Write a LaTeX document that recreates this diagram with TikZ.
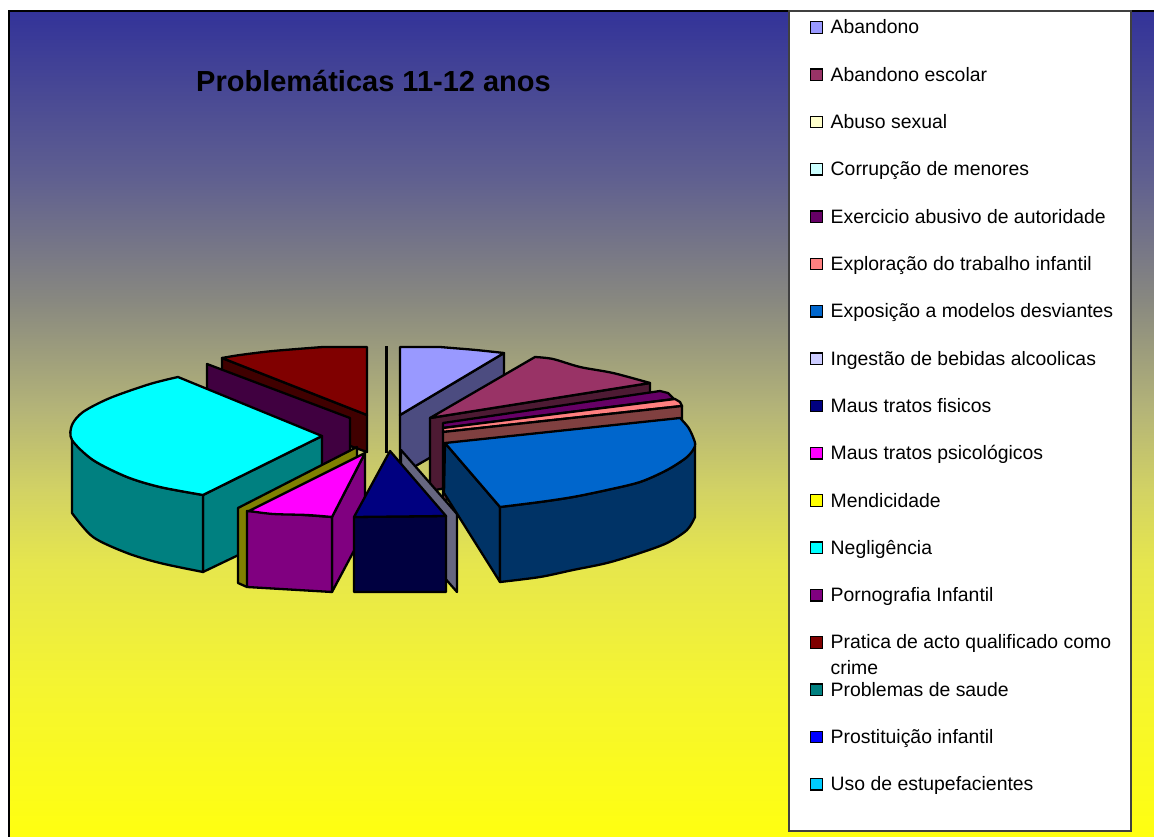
\documentclass[tikz,border=0pt]{standalone}
\usepackage{fontspec}
\setmainfont{Liberation Sans}
\usepackage{tikz}
\usetikzlibrary{positioning}

% background colours
\definecolor{bgTop}{RGB}{51,51,153}
\definecolor{bgBlue}{RGB}{95,95,144}
\definecolor{bgGrey}{RGB}{136,136,128}
\definecolor{bgOlive}{RGB}{180,180,120}
\definecolor{bgLime}{RGB}{210,210,100}
\definecolor{bgPale}{RGB}{230,230,77}
\definecolor{bgLight}{RGB}{245,245,48}
\definecolor{bgBot}{RGB}{255,255,16}
\pgfdeclareverticalshading{chartbg}{100bp}{color(0bp)=(bgBot); color(25bp)=(bgBot);
  color(33.9bp)=(bgLight); color(41.5bp)=(bgPale); color(46bp)=(bgLime);
  color(50.9bp)=(bgOlive); color(57.5bp)=(bgGrey); color(65bp)=(bgBlue);
  color(75bp)=(bgTop); color(100bp)=(bgTop)}

% slice colours
\definecolor{cAbandono}{HTML}{9999FF}
\definecolor{cAbandonoD}{HTML}{4C4C80}
\definecolor{cEscolar}{HTML}{993366}
\definecolor{cEscolarD}{HTML}{4D1A33}
\definecolor{cAbuso}{HTML}{FFFFCC}
\definecolor{cCorrupcao}{HTML}{CCFFFF}
\definecolor{cExercicio}{HTML}{660066}
\definecolor{cExploracao}{HTML}{FF8080}
\definecolor{cExploracaoD}{HTML}{804040}
\definecolor{cExposicao}{HTML}{0066CC}
\definecolor{cExposicaoD}{HTML}{003366}
\definecolor{cIngestao}{HTML}{CCCCFF}
\definecolor{cIngestaoD}{HTML}{666680}
\definecolor{cFisicos}{HTML}{000080}
\definecolor{cFisicosD}{HTML}{000040}
\definecolor{cPsico}{HTML}{FF00FF}
\definecolor{cPsicoD}{HTML}{800080}
\definecolor{cMendicidade}{HTML}{FFFF00}
\definecolor{cMendicidadeD}{HTML}{808000}
\definecolor{cNegligencia}{HTML}{00FFFF}
\definecolor{cNegligenciaD}{HTML}{008080}
\definecolor{cPornografia}{HTML}{800080}
\definecolor{cPornografiaD}{HTML}{400040}
\definecolor{cPratica}{HTML}{800000}
\definecolor{cPraticaD}{HTML}{400000}
\definecolor{cSaude}{HTML}{008080}
\definecolor{cProstituicao}{HTML}{0000FF}
\definecolor{cUso}{HTML}{00CCFF}

\tikzset{
    face/.style={
    draw=black,line width=2.3pt,line join=round
    },
    legkey/.style={
    rectangle,draw=black,line width=1.3pt,minimum size=11.5pt,inner sep=0pt
    },
    legtext/.style={
    anchor=base west,inner sep=0pt,align=left,font=\fontsize{19.4}{26}\selectfont
    },
}

\begin{document}
\begin{tikzpicture}[x=1pt,y=-1pt]
  \useasboundingbox (0,0) rectangle (1154,837);
  \fill[white] (0,0) rectangle (1154,837);
  \shade[shading=chartbg] (9,11) rectangle (1154,837);
  \draw[line width=1.5pt] (9,837) -- (9,11) -- (1154,11);

  \node[font=\bfseries\fontsize{29}{34}\selectfont,anchor=base] (title) at (373.5,91.5) {Problemáticas 11-12 anos};

  % pie, back to front
  \filldraw[face,fill=cPraticaD] (222,358) -- (367,415) -- (367,452) -- (222,400) -- cycle;
  \filldraw[face,fill=cPratica] plot[smooth] coordinates {(222,358) (240,355) (273,351) (323,347)} -- (367,347) -- (367,415) -- cycle;
  \filldraw[face,fill=cPornografiaD] (207,364) -- (350,418) -- (350,480) -- (207,430) -- cycle;
  \fill[black] (384.5,346) rectangle (388,453);
  \filldraw[face,fill=cAbandonoD] (400,415) -- (504,353) -- (504,415) -- (400,475) -- cycle;
  \filldraw[face,fill=cAbandono] (400,347) -- plot[smooth] coordinates {(440,347) (452,348) (476,350) (504,353)} -- (400,415) -- cycle;
  \filldraw[face,fill=cEscolarD] (430,418) -- (650,383) -- (650,450) -- (430,491) -- cycle;
  \filldraw[face,fill=cEscolar] (430,418) -- plot[smooth] coordinates {(535,357) (553,359) (580,367) (613,373) (650,383)} -- cycle;
  \filldraw[face,fill=cExercicio] (443,423) -- (660,391) -- (668,393) -- (674,399) -- (443,428) -- cycle;
  \filldraw[face,fill=cExploracao] (443,428) -- (675,399) -- (680,402) -- (682,406) -- (443,432) -- cycle;
  \filldraw[face,fill=cExploracaoD] (443,432) -- (682,406) -- (682,470) -- (443,500) -- cycle;

  \filldraw[face,fill=cNegligenciaD] (203,495) -- (322,436) -- (322,515) -- (203,572) -- cycle;
  \filldraw[face,fill=cNegligenciaD] plot[smooth] coordinates {(72,440) (93,460) (127,477) (160,487) (203,495)}
    -- (203,572) -- plot[smooth] coordinates {(203,572) (160,563) (127,553) (93,537) (72,513)} -- cycle;
  \filldraw[face,fill=cNegligencia] plot[smooth] coordinates {(203,495) (160,487) (127,477) (93,460) (72,440)
    (72,425) (83,412) (110,398) (150,384) (178,377)} -- (322,436) -- cycle;

  \filldraw[face,fill=cMendicidadeD] (238,508) -- (357,447) -- (357,470) -- (247,587) -- (238,583) -- cycle;
  \filldraw[face,fill=cPsicoD] (332,517) -- (365,453) -- (365,530) -- (332,592) -- cycle;
  \filldraw[face,fill=cPsicoD] (247,511) -- (332,517) -- (332,592) -- (247,587) -- cycle;
  \filldraw[face,fill=cPsico] (365,453) -- (332,517) -- plot[smooth] coordinates {(332,517) (307,515) (273,514) (249,511)} -- cycle;

  \filldraw[face,fill=cIngestaoD] (401,450) -- (457,514) -- (457,592) -- (401,528) -- cycle;
  \filldraw[face,fill=cFisicosD] (354,517) -- (446,516) -- (446,592) -- (354,592) -- cycle;
  \filldraw[face,fill=cFisicos] (390,451) -- (446,516) -- (354,517) -- cycle;

  \filldraw[face,fill=cExposicaoD] (445,443) -- (500,507) -- (500,582) -- (444,493) -- cycle;
  \filldraw[face,fill=cExposicaoD] plot[smooth] coordinates {(500,507) (540,502) (573,497) (607,490) (640,482) (667,470) (687,457) (695,446)}
    -- (695,517) -- plot[smooth] coordinates {(695,517) (687,530) (667,543) (640,553) (607,563) (573,570) (540,577) (500,582)} -- cycle;
  \filldraw[face,fill=cExposicao] (445,443) -- plot[smooth] coordinates {(680,418) (688,427) (693,437) (695,446)
    (687,457) (667,470) (640,482) (607,490) (573,497) (540,502) (500,507)} -- cycle;

  % legend
  \draw[fill=white,draw=black!75,line width=1.2pt] (789,11) rectangle (1131,831);
  \node[legkey,fill=cAbandono] (kabandono) at (816.5,27.5) {};
  \node[legtext] (abandono) at (830.5,34) {Abandono};
  \node[legkey,fill=cEscolar] (kescolar) at (816.5,74.8) {};
  \node[legtext] (escolar) at (830.5,81.3) {Abandono escolar};
  \node[legkey,fill=cAbuso] (kabuso) at (816.5,122.1) {};
  \node[legtext] (abuso) at (830.5,128.6) {Abuso sexual};
  \node[legkey,fill=cCorrupcao] (kcorrupcao) at (816.5,169.4) {};
  \node[legtext] (corrupcao) at (830.5,175.9) {Corrupção de menores};
  \node[legkey,fill=cExercicio] (kexercicio) at (816.5,216.7) {};
  \node[legtext] (exercicio) at (830.5,223.2) {Exercicio abusivo de autoridade};
  \node[legkey,fill=cExploracao] (kexploracao) at (816.5,264) {};
  \node[legtext] (exploracao) at (830.5,270.5) {Exploração do trabalho infantil};
  \node[legkey,fill=cExposicao] (kexposicao) at (816.5,311.3) {};
  \node[legtext] (exposicao) at (830.5,317.8) {Exposição a modelos desviantes};
  \node[legkey,fill=cIngestao] (kingestao) at (816.5,358.6) {};
  \node[legtext] (ingestao) at (830.5,365.1) {Ingestão de bebidas alcoolicas};
  \node[legkey,fill=cFisicos] (kfisicos) at (816.5,405.9) {};
  \node[legtext] (fisicos) at (830.5,412.4) {Maus tratos fisicos};
  \node[legkey,fill=cPsico] (kpsico) at (816.5,453.2) {};
  \node[legtext] (psico) at (830.5,459.7) {Maus tratos psicológicos};
  \node[legkey,fill=cMendicidade] (kmendicidade) at (816.5,500.5) {};
  \node[legtext] (mendicidade) at (830.5,507) {Mendicidade};
  \node[legkey,fill=cNegligencia] (knegligencia) at (816.5,547.8) {};
  \node[legtext] (negligencia) at (830.5,554.3) {Negligência};
  \node[legkey,fill=cPornografia] (kpornografia) at (816.5,595.1) {};
  \node[legtext] (pornografia) at (830.5,601.6) {Pornografia Infantil};
  \node[legkey,fill=cPratica] (kpratica) at (816.5,642.4) {};
  \node[legtext] (pratica) at (830.5,674.9) {Pratica de acto qualificado como\\crime};
  \node[legkey,fill=cSaude] (ksaude) at (816.5,689.7) {};
  \node[legtext] (saude) at (830.5,696.2) {Problemas de saude};
  \node[legkey,fill=cProstituicao] (kprostituicao) at (816.5,737) {};
  \node[legtext] (prostituicao) at (830.5,743.5) {Prostituição infantil};
  \node[legkey,fill=cUso] (kuso) at (816.5,784.3) {};
  \node[legtext] (uso) at (830.5,790.8) {Uso de estupefacientes};
\end{tikzpicture}
\end{document}
